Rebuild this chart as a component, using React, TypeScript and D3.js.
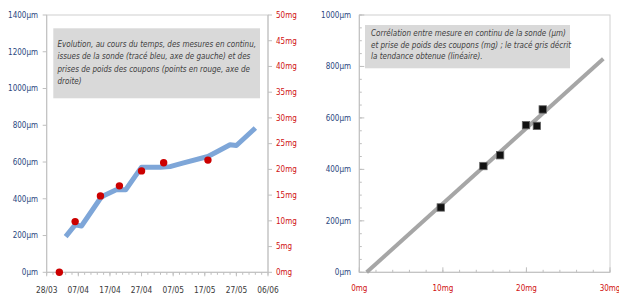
import * as d3 from "d3";

const year = 2011;
const sondeDates = ["03/04", "06/04", "08/04", "14/04", "15/04", "19/04", "22/04", "27/04", "03/05", "06/05", "10/05", "18/05", "21/05", "25/05", "27/05", "02/06"];
const sondeUm = [194, 258, 252, 403, 416, 449, 449, 572, 572, 575, 594, 630, 657, 694, 690, 785];
const couponDates = ["01/04", "06/04", "14/04", "20/04", "27/04", "04/05", "18/05"];
const couponMg = [0, 9.85, 14.85, 16.8, 19.7, 21.3, 21.8];
const dateTicks = ["28/03", "07/04", "17/04", "27/04", "07/05", "17/05", "27/05", "06/06"];
const umTicksLeft = [0, 200, 400, 600, 800, 1000, 1200, 1400];
const mgTicksRight = [0, 5, 10, 15, 20, 25, 30, 35, 40, 45, 50];

const corrMg = [9.75, 14.85, 16.85, 19.95, 21.25, 21.95];
const corrUm = [252, 413, 455, 572, 569, 633];
const trendSlope = 29.3;
const trendIntercept = -25.8;
const trendMgRange = [0.88, 29.2];
const umTicksCorr = [0, 200, 400, 600, 800, 1000];
const mgTicksCorr = [0, 10, 20, 30];

const noteLeft = [
  "Evolution, au cours du temps, des mesures en continu,",
  "issues de la sonde (tracé bleu, axe de gauche) et des",
  "prises de poids des coupons (points en rouge, axe de",
  "droite)",
];
const noteRight = [
  "Corrélation entre mesure en continu de la sonde (µm)",
  "et prise de poids des coupons (mg) ; le tracé gris décrit",
  "la tendance obtenue (linéaire).",
];

const parse = (s: string) => d3.timeParse("%d/%m/%Y")(`${s}/${year}`) as Date;
const font = "'Liberation Sans Narrow', 'DejaVu Sans Condensed', Arial, sans-serif";
const blueText = "#2b4780";
const redText = "#d01010";
const axisGray = "#bfbfbf";

function LeftChart() {
  const left = 46.7, right = 268, top = 15, bottom = 272.3;
  const x = d3.scaleTime().domain([parse("28/03"), parse("06/06")]).range([left, right]);
  const yUm = d3.scaleLinear().domain([0, 1400]).range([bottom, top]);
  const yMg = d3.scaleLinear().domain([0, 50]).range([bottom, top]);
  const line = d3
    .line<number>()
    .x((_, i) => x(parse(sondeDates[i])))
    .y((d) => yUm(d));
  const minor = d3.timeDay.range(parse("28/03"), d3.timeDay.offset(parse("06/06"), 1), 2);

  return (
    <g fontFamily={font}>
      <rect x={left} y={top} width={right - left} height={bottom - top} fill="none" stroke="#d0d0d0" strokeWidth={1} />
      <line x1={left} x2={left} y1={top} y2={bottom} stroke={axisGray} />
      <line x1={right} x2={right} y1={top} y2={bottom} stroke={axisGray} />
      <line x1={left} x2={right} y1={bottom} y2={bottom} stroke={axisGray} />
      {minor.map((d) => (
        <line key={+d} x1={x(d)} x2={x(d)} y1={bottom} y2={bottom + 2.5} stroke={axisGray} />
      ))}
      {dateTicks.map((t) => (
        <g key={t} transform={`translate(${x(parse(t))},0)`}>
          <line y1={bottom} y2={bottom + 4} stroke={axisGray} />
          <text y={bottom + 21} textAnchor="middle" fontSize={8.3} fill="#3a3a3a">{t}</text>
        </g>
      ))}
      {umTicksLeft.map((t) => (
        <g key={t} transform={`translate(0,${yUm(t)})`}>
          <line x1={left - 4} x2={left} stroke={axisGray} />
          <text x={38} dy="0.35em" textAnchor="end" fontSize={8} fill={blueText}>{t}µm</text>
        </g>
      ))}
      {mgTicksRight.map((t) => (
        <g key={t} transform={`translate(0,${yMg(t)})`}>
          <line x1={right} x2={right + 4} stroke={axisGray} />
          <text x={276} dy="0.35em" fontSize={8} fill={redText}>{t}mg</text>
        </g>
      ))}
      <rect x={53.3} y={28.3} width={206.7} height={70} fill="#d9d9d9" />
      {noteLeft.map((s, i) => (
        <text key={i} x={57.5} y={47 + i * 12.3} fontSize={8} fontStyle="italic" fill="#404040">{s}</text>
      ))}
      <path d={line(sondeUm) ?? ""} fill="none" stroke="#7ea6d8" strokeWidth={5} strokeLinejoin="round" strokeLinecap="butt" />
      {couponMg.map((v, i) => (
        <circle key={i} cx={x(parse(couponDates[i]))} cy={yMg(v)} r={3.7} fill="#cc0000" />
      ))}
    </g>
  );
}

function RightChart() {
  const left = 359.3, right = 610, top = 15, bottom = 272.3;
  const x = d3.scaleLinear().domain([0, 30]).range([left, right]);
  const y = d3.scaleLinear().domain([0, 1000]).range([bottom, top]);
  const minorX = d3.range(0, 30.01, 2);
  const minorY = d3.range(0, 1000.01, 50);
  const t0 = trendMgRange[0], t1 = trendMgRange[1];

  return (
    <g fontFamily={font}>
      <rect x={left} y={top} width={right - left} height={bottom - top} fill="none" stroke="#d0d0d0" strokeWidth={1} />
      <line x1={left} x2={left} y1={top} y2={bottom} stroke={axisGray} />
      <line x1={left} x2={right} y1={bottom} y2={bottom} stroke={axisGray} />
      {minorX.map((t) => (
        <line key={t} x1={x(t)} x2={x(t)} y1={bottom} y2={bottom - 2.5} stroke={axisGray} />
      ))}
      {minorY.map((t) => (
        <line key={t} x1={left} x2={left + 2.5} y1={y(t)} y2={y(t)} stroke={axisGray} />
      ))}
      {mgTicksCorr.map((t) => (
        <g key={t} transform={`translate(${x(t)},0)`}>
          <line y1={bottom} y2={bottom - 5} stroke={axisGray} />
          <text y={bottom + 19} textAnchor="middle" fontSize={8} fill={redText}>{t}mg</text>
        </g>
      ))}
      {umTicksCorr.map((t) => (
        <g key={t} transform={`translate(0,${y(t)})`}>
          <line x1={left} x2={left + 5} stroke={axisGray} />
          <text x={351} dy="0.35em" textAnchor="end" fontSize={8} fill={blueText}>{t}µm</text>
        </g>
      ))}
      <rect x={365} y={25} width={205} height={43.3} fill="#d9d9d9" />
      {noteRight.map((s, i) => (
        <text key={i} x={371} y={36 + i * 11.7} fontSize={8} fontStyle="italic" fill="#404040">{s}</text>
      ))}
      <line
        x1={x(t0)} y1={y(trendSlope * t0 + trendIntercept)}
        x2={x(t1)} y2={y(trendSlope * t1 + trendIntercept)}
        stroke="#a6a6a6" strokeWidth={4}
      />
      {corrMg.map((v, i) => (
        <rect key={i} x={x(v) - 3.7} y={y(corrUm[i]) - 3.7} width={7.4} height={7.4} fill="#111" stroke="#666" strokeWidth={0.8} />
      ))}
    </g>
  );
}

export default function App() {
  return (
    <div style={{ position: "fixed", left: 0, top: 0 }}>
      <svg width={619} height={295} style={{ display: "block", background: "#fff" }}>
        <LeftChart />
        <RightChart />
      </svg>
    </div>
  );
}
